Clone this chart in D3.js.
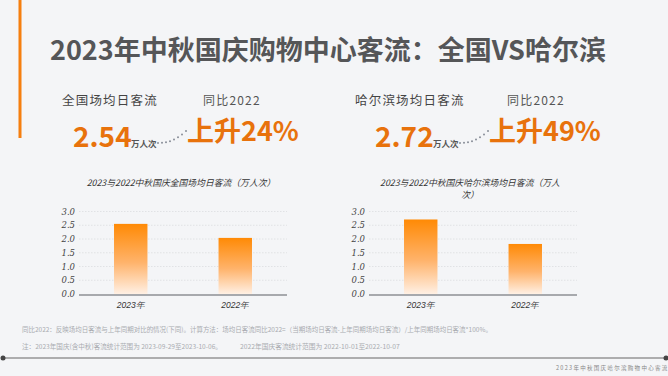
<!DOCTYPE html>
<html>
<head>
<meta charset="utf-8">
<script src="https://cdn.jsdelivr.net/npm/d3@7"></script>
<style>
  body { margin: 0; background: #f4f5f7; }
  svg { display: block; font-family: "Noto Sans CJK SC", "Noto Sans", sans-serif; }
</style>
</head>
<body>
<div id="chart"></div>
<script>
// data
const years = ["2023年", "2022年"];
const nationalFlow = [2.55, 2.04];
const harbinFlow = [2.71, 1.82];
const yTicks = [0, 0.5, 1.0, 1.5, 2.0, 2.5, 3.0];
const kpiLabels = ["全国场均日客流", "哈尔滨场均日客流"];
const kpiValues = ["2.54", "2.72"];
const kpiGrowth = ["上升24%", "上升49%"];
const chartTitles = [
  ["2023与2022中秋国庆全国场均日客流（万人次）"],
  ["2023与2022中秋国庆哈尔滨场均日客流（万人", "次）"]
];
const notes = [
  "同比2022：反映场均日客流与上年同期对比的情况(下同)。计算方法：场均日客流同比2022=（当期场均日客流-上年同期场均日客流）/上年同期场均日客流*100%。",
  "注：2023年国庆(含中秋)客流统计范围为 2023-09-29至2023-10-06。",
  "2022年国庆客流统计范围为 2022-10-01至2022-10-07"
];

const width = 668, height = 376;
const orange = "#e8720c";

let svg = d3.select("#chart")
  .append("svg")
  .attr("width", width)
  .attr("height", height);

svg.append("rect").attr("width", width).attr("height", height).attr("fill", "#f4f5f7");

// gradient for bars
let grad = svg.append("defs").append("linearGradient")
  .attr("id", "barGrad").attr("x1", 0).attr("y1", 0).attr("x2", 0).attr("y2", 1);
grad.append("stop").attr("offset", "0%").attr("stop-color", "#ff8a05");
grad.append("stop").attr("offset", "55%").attr("stop-color", "#ffb36b");
grad.append("stop").attr("offset", "100%").attr("stop-color", "#fff0e4");

// left accent bar
svg.append("rect")
  .attr("x", 18.5).attr("y", 0).attr("width", 3).attr("height", 138)
  .attr("fill", "#f57f0f");

// main title
svg.append("text")
  .attr("x", 50).attr("y", 60)
  .attr("font-size", 27).attr("font-weight", "bold")
  .attr("fill", "#555658")
  .text("2023年中秋国庆购物中心客流：全国VS哈尔滨");

// KPI blocks
const kpiX = [62, 355];
kpiX.forEach((x0, i) => {
  let g = svg.append("g").attr("transform", "translate(" + x0 + ",0)");
  g.append("text")
    .attr("x", 0).attr("y", 105)
    .attr("font-size", 12.5).attr("letter-spacing", 1.2)
    .attr("fill", "#444")
    .text(kpiLabels[i]);
  g.append("text")
    .attr("x", 141 + (i ? 11 : 0)).attr("y", 105)
    .attr("font-size", 12).attr("letter-spacing", 1.2)
    .attr("fill", "#555")
    .text("同比2022");
  let vx = i ? 20 : 11;
  g.append("text")
    .attr("x", vx).attr("y", 147)
    .attr("font-size", 28).attr("font-weight", "bold")
    .attr("fill", orange)
    .text(kpiValues[i]);
  g.append("text")
    .attr("x", vx + 58).attr("y", 147)
    .attr("font-size", 8.5).attr("font-weight", "bold")
    .attr("fill", "#555")
    .text("万人次");
  // dotted connector
  let dots = d3.range(8).map(k => {
    let t = k / 7;
    return [vx + 85 + t * 28, 143 - Math.pow(t, 2.2) * 12];
  });
  g.selectAll(".cdot").data(dots).enter()
    .append("circle")
    .attr("cx", d => d[0]).attr("cy", d => d[1])
    .attr("r", 1).attr("fill", "#8a8f99");
  g.append("text")
    .attr("x", vx + 114).attr("y", 141)
    .attr("font-size", 27).attr("font-weight", "bold")
    .attr("fill", orange)
    .text(kpiGrowth[i]);
});

// bar charts
const charts = [
  { x0: 79, x1: 287, data: nationalFlow, title: chartTitles[0], cx: 181 },
  { x0: 369, x1: 577, data: harbinFlow, title: chartTitles[1], cx: 470 }
];

charts.forEach(c => {
  let yScale = d3.scaleLinear().domain([0, 3]).range([294, 211.5]);
  let xScale = d3.scaleBand().domain(years).range([c.x0, c.x1]).paddingInner(0.68).paddingOuter(0.335);

  let g = svg.append("g");

  // title
  c.title.forEach((t, k) => {
    g.append("text")
      .attr("x", c.cx).attr("y", 185.5 + k * 12)
      .attr("text-anchor", "middle")
      .attr("font-size", 8.8).attr("font-style", "italic")
      .attr("fill", "#333")
      .text(t);
  });

  // grid
  g.selectAll(".grid").data(yTicks.slice(1)).enter()
    .append("line")
    .attr("x1", c.x0).attr("x2", c.x1)
    .attr("y1", d => yScale(d)).attr("y2", d => yScale(d))
    .attr("stroke", "#dcdde0").attr("stroke-width", 0.8)
    .attr("stroke-dasharray", "1.5,1.5");

  // y axis labels
  let yAxis = d3.axisLeft(yScale).tickValues(yTicks).tickFormat(d3.format(".1f")).tickSize(0).tickPadding(4);
  let ya = g.append("g").attr("transform", "translate(" + c.x0 + ",0)").call(yAxis);
  ya.select(".domain").remove();
  ya.selectAll("text")
    .attr("font-size", 8.5).attr("font-style", "italic")
    .attr("fill", "#444").attr("font-family", "DejaVu Serif, serif");

  // bars
  g.selectAll(".bar").data(c.data).enter()
    .append("rect")
    .attr("x", (d, i) => xScale(years[i]))
    .attr("y", d => yScale(d))
    .attr("width", xScale.bandwidth())
    .attr("height", d => yScale(0) - yScale(d))
    .attr("fill", "url(#barGrad)");

  // baseline
  g.append("line")
    .attr("x1", c.x0).attr("x2", c.x1)
    .attr("y1", yScale(0) + 1).attr("y2", yScale(0) + 1)
    .attr("stroke", "#a7a9ad").attr("stroke-width", 2);

  // x labels
  let xAxis = d3.axisBottom(xScale).tickSize(0).tickPadding(8);
  let xa = g.append("g").attr("transform", "translate(0," + yScale(0) + ")").call(xAxis);
  xa.select(".domain").remove();
  xa.selectAll("text")
    .attr("font-size", 8.5).attr("font-style", "italic")
    .attr("fill", "#333");
});

// footnotes: sized so each line spans the same width as in the picture
const noteX = [22, 22, 240];
const noteEnd = [493, 222, 400];
const noteY = [332, 349, 349];
notes.forEach((n, i) => {
  let t = svg.append("text")
    .attr("x", noteX[i]).attr("y", noteY[i])
    .attr("font-size", 10)
    .attr("fill", "#a9abb0")
    .text(n);
  let w = t.node().getComputedTextLength();
  let fs = Math.min(8, 10 * (noteEnd[i] - noteX[i]) / w);
  t.attr("font-size", fs);
});

// footer line
svg.append("line")
  .attr("x1", 3).attr("x2", 666).attr("y1", 358).attr("y2", 358)
  .attr("stroke", "#666").attr("stroke-width", 1.2);
svg.append("circle").attr("cx", 3).attr("cy", 358).attr("r", 2.5).attr("fill", "#444");
svg.append("circle").attr("cx", 666).attr("cy", 358).attr("r", 2.5).attr("fill", "#444");

svg.append("text")
  .attr("x", 556).attr("y", 370)
  .attr("font-size", 5.5).attr("letter-spacing", 1.3)
  .attr("fill", "#888")
  .text("2023年中秋国庆哈尔滨购物中心客流盘点");
</script>
</body>
</html>
